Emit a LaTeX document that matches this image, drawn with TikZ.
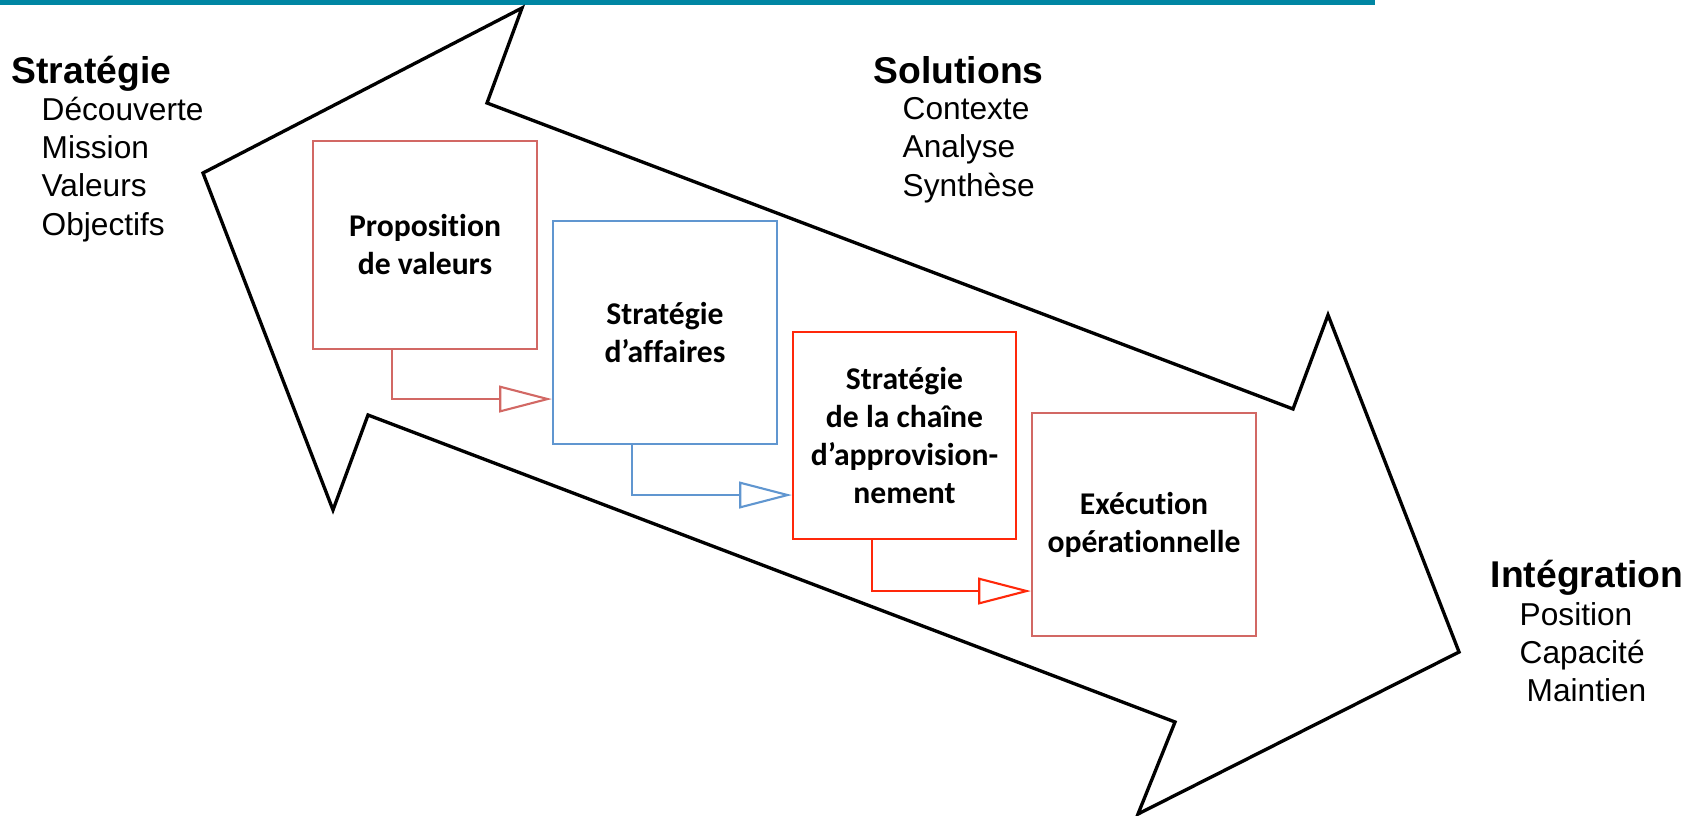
\documentclass[tikz,border=0pt]{standalone}
\usepackage{fontspec}
\setmainfont{Liberation Sans}
\newfontfamily\boxfont{Carlito}[Ligatures=NoCommon]
\usetikzlibrary{arrows.meta}
\definecolor{barteal}{RGB}{0,134,163}
\definecolor{softred}{RGB}{210,104,100}
\definecolor{softblue}{RGB}{96,150,208}
\definecolor{brightred}{RGB}{255,40,10}
\tikzset{
  stage/.style={draw=#1, line width=0.6pt, minimum width=2.24cm, inner sep=0pt, align=center, font=\boxfont\bfseries\fontsize{9}{10.8}\selectfont},
  flow/.style={line width=0.6pt, -{Triangle[open, length=15pt, width=7.6pt]}},
  head/.style={anchor=base west, inner sep=0pt, font=\fontsize{10.6}{12}\selectfont\bfseries},
  item/.style={anchor=base west, inner sep=0pt, font=\fontsize{9}{11}\selectfont}
}
\begin{document}
\begin{tikzpicture}[x=0.01cm,y=-0.01cm]
\useasboundingbox (0,0) rectangle (1698,816);
\fill[barteal] (0,0) rectangle (1375,5);
% double arrow
\draw[line width=0.95pt, line join=miter] (522,8)--(487,103)--(1293,409)--(1328,315)--(1459,652)--(1138,814)--(1175,722)--(368,415)--(333,510)--(203,173)--cycle;
% stages
\node[stage=softred, minimum height=2.08cm] (pv) at (425,245) {Proposition\\de valeurs};
\node[stage=softblue, minimum height=2.23cm] (sa) at (665,332.5) {Stratégie\\d’affaires};
\node[stage=brightred, minimum width=2.23cm, minimum height=2.07cm] (sc) at (904.5,435.5) {Stratégie\\de la chaîne\\d’approvision-\\nement};
\node[stage=softred, minimum height=2.23cm] (eo) at (1144,524.5) {Exécution\\opérationnelle};
\draw[flow, softred] ([xshift=0.8cm]pv.south west) |- ([yshift=-0.665cm]sa.west);
\draw[flow, softblue] ([xshift=0.8cm]sa.south west) |- ([yshift=-0.595cm]sc.west);
\draw[flow, brightred] ([xshift=0.8cm]sc.south west) |- ([yshift=-0.665cm]eo.west);
% labels
\node[head] (strat) at (11,84) {Stratégie};
\node[item] (decouv) at (41,121) {Découverte};
\node[item] (mission) at (41,159) {Mission};
\node[item] (valeurs) at (41,197) {Valeurs};
\node[item] (objectifs) at (41,236) {Objectifs};
\node[head] (sol) at (873,84) {Solutions};
\node[item] (contexte) at (902,120) {Contexte};
\node[item] (analyse) at (902,158) {Analyse};
\node[item] (synth) at (902,197) {Synthèse};
\node[head] (integ) at (1490,587) {Intégration};
\node[item] (position) at (1519,625) {Position};
\node[item] (capacite) at (1519,663) {Capacité};
\node[item] (maintien) at (1526,701) {Maintien};
\end{tikzpicture}
\end{document}
